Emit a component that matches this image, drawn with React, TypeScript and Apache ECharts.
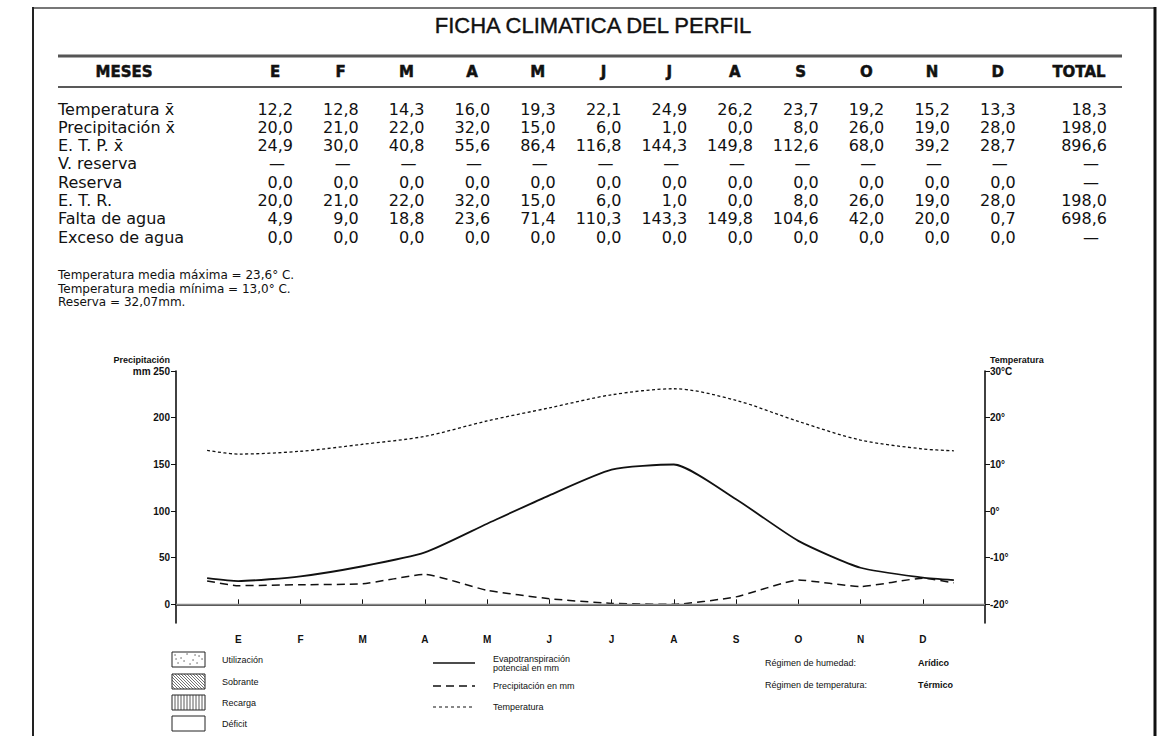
import React, { useEffect, useRef } from "react";
import * as echarts from "echarts";

const titleText = "FICHA CLIMATICA DEL PERFIL";
const monthLetters = ["E", "F", "M", "A", "M", "J", "J", "A", "S", "O", "N", "D"];
const rowLabels = [
  "Temperatura x\u0304",
  "Precipitación x\u0304",
  "E. T. P. x\u0304",
  "V. reserva",
  "Reserva",
  "E. T. R.",
  "Falta de agua",
  "Exceso de agua",
];
// 12 months + total (null = dash)
const temperatura = [12.2, 12.8, 14.3, 16.0, 19.3, 22.1, 24.9, 26.2, 23.7, 19.2, 15.2, 13.3, 18.3];
const precipitacion = [20.0, 21.0, 22.0, 32.0, 15.0, 6.0, 1.0, 0.0, 8.0, 26.0, 19.0, 28.0, 198.0];
const etp = [24.9, 30.0, 40.8, 55.6, 86.4, 116.8, 144.3, 149.8, 112.6, 68.0, 39.2, 28.7, 896.6];
const vReserva = [null, null, null, null, null, null, null, null, null, null, null, null, null];
const reserva = [0, 0, 0, 0, 0, 0, 0, 0, 0, 0, 0, 0, null];
const etr = [20.0, 21.0, 22.0, 32.0, 15.0, 6.0, 1.0, 0.0, 8.0, 26.0, 19.0, 28.0, 198.0];
const faltaAgua = [4.9, 9.0, 18.8, 23.6, 71.4, 110.3, 143.3, 149.8, 104.6, 42.0, 20.0, 0.7, 698.6];
const excesoAgua = [0, 0, 0, 0, 0, 0, 0, 0, 0, 0, 0, 0, null];
const tableRows = [temperatura, precipitacion, etp, vReserva, reserva, etr, faltaAgua, excesoAgua];

const notes = [
  "Temperatura media máxima = 23,6° C.",
  "Temperatura media mínima = 13,0° C.",
  "Reserva = 32,07mm.",
];

// curve values at the half-month edges
const etpEdges = [28, 26];
const precipEdges = [25, 23];
const tempEdges = [13.0, 12.9];

const leftTicks = [0, 50, 100, 150, 200, 250];
const rightTicks = [-20, -10, 0, 10, 20, 30];

const fmt = (v: number | null) => (v === null ? "—" : v.toFixed(1).replace(".", ","));

function buildSeriesData(vals: number[], edges: number[]) {
  const d: number[][] = [[0.5, edges[0]]];
  for (let i = 0; i < 12; i++) d.push([i + 1, vals[i]]);
  d.push([12.5, edges[1]]);
  return d;
}

export default function App() {
  const ref = useRef<HTMLDivElement>(null);
  useEffect(() => {
    if (!ref.current) return;
    const chart = echarts.init(ref.current, undefined, { renderer: "svg" });
    const tf = "DejaVu Sans";
    const lf = "Liberation Sans";
    const g: any[] = [];
    // page frame
    g.push({ type: "line", shape: { x1: 33, y1: 8, x2: 1155, y2: 8 }, style: { stroke: "#777", lineWidth: 2 } });
    g.push({ type: "line", shape: { x1: 33, y1: 7, x2: 33, y2: 736 }, style: { stroke: "#222", lineWidth: 2 } });
    g.push({ type: "line", shape: { x1: 1155, y1: 7, x2: 1155, y2: 736 }, style: { stroke: "#111", lineWidth: 3 } });
    // title
    g.push({ type: "text", x: 593, y: 25, style: { text: titleText, font: `22px '${lf}'`, fill: "#111", stroke: "#111", lineWidth: 0.4, align: "center", verticalAlign: "middle" } });
    // rules
    g.push({ type: "line", shape: { x1: 58, y1: 56, x2: 1122, y2: 56 }, style: { stroke: "#555", lineWidth: 3 } });
    g.push({ type: "line", shape: { x1: 58, y1: 87, x2: 1122, y2: 87 }, style: { stroke: "#222", lineWidth: 1.5 } });
    const colX = (i: number) => 275 + i * 65.7;
    const hdr = `bold 15px '${tf}'`;
    const body = `16px '${tf}'`;
    g.push({ type: "text", x: 124, y: 72, style: { text: "MESES", font: hdr, fill: "#111", stroke: "#111", lineWidth: 0.5, align: "center", verticalAlign: "middle" } });
    monthLetters.forEach((m, i) => {
      g.push({ type: "text", x: colX(i), y: 72, style: { text: m, font: hdr, fill: "#111", stroke: "#111", lineWidth: 0.5, align: "center", verticalAlign: "middle" } });
    });
    g.push({ type: "text", x: 1079, y: 72, style: { text: "TOTAL", font: hdr, fill: "#111", stroke: "#111", lineWidth: 0.5, align: "center", verticalAlign: "middle" } });
    tableRows.forEach((row, r) => {
      const y = 109 + r * 18.3;
      g.push({ type: "text", x: 58, y, style: { text: rowLabels[r], font: body, fill: "#111", align: "left", verticalAlign: "middle" } });
      row.forEach((v, c) => {
        const right = c < 12 ? colX(c) + 18 : 1107;
        if (v === null) {
          g.push({ type: "text", x: right - 16, y, style: { text: "—", font: body, fill: "#111", align: "center", verticalAlign: "middle" } });
        } else {
          g.push({ type: "text", x: right, y, style: { text: fmt(v as number), font: body, fill: "#111", align: "right", verticalAlign: "middle" } });
        }
      });
    });
    notes.forEach((t, i) => {
      g.push({ type: "text", x: 58, y: 275 + i * 13.5, style: { text: t, font: `12px '${tf}'`, fill: "#111", align: "left", verticalAlign: "middle" } });
    });
    // axis titles
    g.push({ type: "text", x: 170, y: 360, style: { text: "Precipitación", font: `bold 9px '${lf}'`, fill: "#111", align: "right", verticalAlign: "middle" } });
    g.push({ type: "text", x: 990, y: 360, style: { text: "Temperatura", font: `bold 9px '${lf}'`, fill: "#111", align: "left", verticalAlign: "middle" } });

    // legend boxes
    const bx = 172, bw = 33, bh = 15;
    const boxY = [652, 674, 695, 716];
    const boxLabels = ["Utilización", "Sobrante", "Recarga", "Déficit"];
    boxY.forEach((y, i) => {
      g.push({ type: "rect", shape: { x: bx, y, width: bw, height: bh }, style: { fill: "#fff", stroke: "#222", lineWidth: 1 } });
      g.push({ type: "text", x: 222, y: y + bh / 2, style: { text: boxLabels[i], font: `9px '${lf}'`, fill: "#111", align: "left", verticalAlign: "middle" } });
    });
    // stipple
    const dots = [[3, 3], [9, 6], [15, 2], [21, 8], [27, 4], [6, 11], [12, 9], [18, 12], [25, 11], [30, 7], [4, 7], [23, 3]];
    dots.forEach(([dx, dy]) => g.push({ type: "circle", shape: { cx: bx + dx, cy: boxY[0] + dy, r: 0.6 }, style: { fill: "#333" } }));
    // diagonal hatch
    for (let k = -bh; k < bw; k += 3) {
      const x1 = bx + Math.max(k, 0), y1 = boxY[1] + Math.max(-k, 0);
      const len = Math.min(bw - Math.max(k, 0), bh - Math.max(-k, 0));
      g.push({ type: "line", shape: { x1, y1, x2: x1 + len, y2: y1 + len }, style: { stroke: "#333", lineWidth: 0.7 } });
    }
    // vertical hatch
    for (let k = 3; k < bw; k += 3) {
      g.push({ type: "line", shape: { x1: bx + k, y1: boxY[2], x2: bx + k, y2: boxY[2] + bh }, style: { stroke: "#333", lineWidth: 0.8 } });
    }
    // line legend
    g.push({ type: "line", shape: { x1: 433, y1: 663, x2: 475, y2: 663 }, style: { stroke: "#111", lineWidth: 1.6 } });
    g.push({ type: "line", shape: { x1: 433, y1: 686, x2: 475, y2: 686 }, style: { stroke: "#111", lineWidth: 1.4, lineDash: [8, 5] } });
    g.push({ type: "line", shape: { x1: 433, y1: 707, x2: 475, y2: 707 }, style: { stroke: "#111", lineWidth: 1.2, lineDash: [3, 3] } });
    const lt = (x: number, y: number, text: string, bold = false) =>
      g.push({ type: "text", x, y, style: { text, font: `${bold ? "bold " : ""}9px '${lf}'`, fill: "#111", align: "left", verticalAlign: "middle" } });
    lt(493, 659, "Evapotranspiración");
    lt(493, 668, "potencial en mm");
    lt(493, 686, "Precipitación en mm");
    lt(493, 707, "Temperatura");
    lt(765, 663, "Régimen de humedad:");
    lt(918, 663, "Arídico", true);
    lt(765, 685, "Régimen de temperatura:");
    lt(918, 685, "Térmico", true);

    const axisLine = { show: true, lineStyle: { color: "#111", width: 1.6 } };
    const option: any = {
      animation: false,
      backgroundColor: "#fff",
      textStyle: { fontFamily: lf },
      grid: { left: 176, right: 182, top: 371, bottom: 113 },
      xAxis: {
        type: "value",
        min: 0,
        max: 13,
        interval: 1,
        axisLine,
        splitLine: { show: false },
        axisTick: { show: true, inside: true, length: 5, customValues: monthLetters.map((_, i) => i + 1), lineStyle: { color: "#111" } },
        axisLabel: {
          customValues: monthLetters.map((_, i) => i + 1),
          formatter: (v: number) => monthLetters[v - 1] || "",
          color: "#111",
          fontSize: 10,
          fontWeight: "bold",
          margin: 11,
        },
      },
      yAxis: [
        {
          type: "value",
          min: -20,
          max: 250,
          axisLine,
          splitLine: { show: false },
          axisTick: { show: true, length: 5, customValues: leftTicks, lineStyle: { color: "#111" } },
          axisLabel: {
            customValues: leftTicks,
            formatter: (v: number) => (v === 250 ? "mm 250" : String(v)),
            color: "#111",
            fontSize: 10,
            fontWeight: "bold",
            margin: 6,
          },
        },
        {
          type: "value",
          min: -24,
          max: 30,
          position: "right",
          axisLine,
          splitLine: { show: false },
          axisTick: { show: true, length: 5, customValues: rightTicks, lineStyle: { color: "#111" } },
          axisLabel: {
            customValues: rightTicks,
            formatter: (v: number) => (v === 30 ? "30°C" : v + "°"),
            color: "#111",
            fontSize: 10,
            fontWeight: "bold",
            margin: 5,
          },
        },
      ],
      series: [
        {
          name: "ETP",
          type: "line",
          data: buildSeriesData(etp, etpEdges),
          smooth: 0.2,
          showSymbol: false,
          lineStyle: { color: "#111", width: 1.8 },
          markLine: {
            silent: true,
            symbol: "none",
            label: { show: false },
            lineStyle: { color: "#888", width: 1.4, type: "solid" },
            data: [{ yAxis: 0 }],
          },
        },
        {
          name: "Precipitación",
          type: "line",
          data: buildSeriesData(precipitacion, precipEdges),
          smooth: 0.15,
          showSymbol: false,
          lineStyle: { color: "#111", width: 1.5, type: [8, 5] },
        },
        {
          name: "Temperatura",
          type: "line",
          yAxisIndex: 1,
          data: buildSeriesData(temperatura, tempEdges),
          smooth: 0.3,
          showSymbol: false,
          lineStyle: { color: "#111", width: 1.3, type: [3, 2.5] },
        },
      ],
      graphic: g,
    };
    chart.setOption(option);
    return () => chart.dispose();
  }, []);
  return <div ref={ref} style={{ position: "fixed", left: 0, top: 0, width: 1167, height: 736 }} />;
}
